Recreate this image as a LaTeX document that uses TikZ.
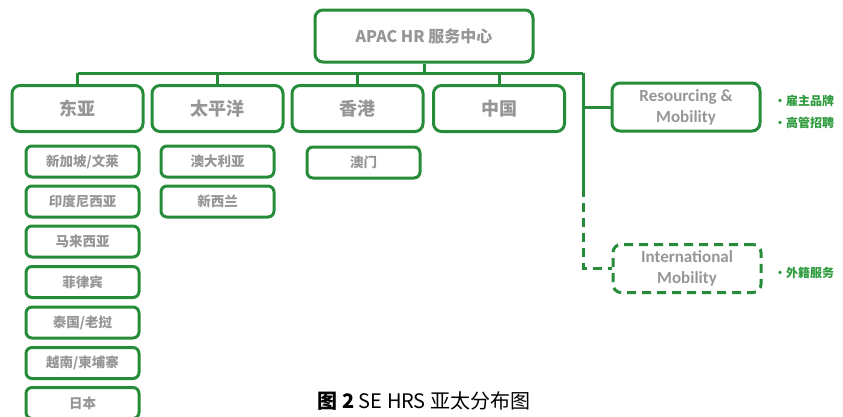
\documentclass[tikz,border=0pt]{standalone}
\usepackage{fontspec}
\setmainfont{Noto Sans CJK SC}
\newfontfamily\latinf{Carlito}
\newfontfamily\cjkf{Noto Sans CJK SC}
\definecolor{hrgreen}{RGB}{38,140,58}
\definecolor{bulgreen}{RGB}{46,155,62}
\definecolor{txtgray}{RGB}{150,150,150}
\begin{document}
\begin{tikzpicture}[x=1pt,y=-1pt,
  conn/.style={draw=hrgreen,line width=3pt},
  box/.style={draw=hrgreen,line width=3pt,rounded corners=8pt,fill=white,text=txtgray,align=center,inner sep=0pt},
  topbox/.style={box,minimum width=218pt,minimum height=52pt,font=\cjkf\fontsize{16}{18}\selectfont\bfseries},
  regbox/.style={box,minimum width=131pt,minimum height=46pt,font=\cjkf\fontsize{18}{20}\selectfont\bfseries},
  subbox/.style={box,rounded corners=6pt,minimum width=113pt,minimum height=31pt,font=\cjkf\fontsize{13.5}{15}\selectfont\bfseries},
  funcbox/.style={box,minimum width=148pt,minimum height=48pt,font=\latinf\fontsize{17}{21}\selectfont\bfseries},
  dashbox/.style={funcbox,dash pattern=on 9pt off 6pt},
  bullet/.style={anchor=west,text=bulgreen,font=\cjkf\fontsize{12}{14}\selectfont\bfseries,inner sep=0pt}]
\clip (0,0) rectangle (843,416);
\fill[white] (0,0) rectangle (843,416);
% bus coordinates
\coordinate (busL) at (77.5,73);
\coordinate (busR) at (583,73);
\coordinate (split) at (583,188);
% top
\node[topbox] (top) at (424,36) {APAC HR 服务中心};
% regions
\node[regbox] (ea) at (77.5,108.5) {东亚};
\node[regbox] (pac) at (217.5,108.5) {太平洋};
\node[regbox] (hk) at (357.5,108.5) {香港};
\node[regbox] (cn) at (499,108.5) {中国};
% sub boxes
\node[subbox] (s1) at (82.5,161.5) {新加坡/文莱};
\node[subbox] (s2) at (82.5,201.5) {印度尼西亚};
\node[subbox] (s3) at (82.5,241.5) {马来西亚};
\node[subbox] (s4) at (82.5,282) {菲律宾};
\node[subbox] (s5) at (82.5,322.5) {泰国/老挝};
\node[subbox] (s6) at (82.5,363) {越南/柬埔寨};
\node[subbox] (s7) at (82.5,403) {日本};
\node[subbox] (p1) at (217.5,161.5) {澳大利亚};
\node[subbox] (p2) at (217.5,201.5) {新西兰};
\node[subbox] (m1) at (363.5,162.5) {澳门};
% function boxes
\node[funcbox] (res) at (686,107) {Resourcing \&\\Mobility};
\node[dashbox] (intl) at (687,268.5) {International\\Mobility};
\coordinate (corner) at (583,268.5);
% bullets
\node[bullet] (b1) at (774,101) {・雇主品牌};
\node[bullet] (b2) at (774,123) {・高管招聘};
\node[bullet] (b3) at (774,273) {・外籍服务};
% connectors
\draw[conn] (busL) -- (busR);
\draw[conn] (top.south) -- (top.south |- busL);
\draw[conn] (ea.north) -- (ea.north |- busL);
\draw[conn] (pac.north) -- (pac.north |- busL);
\draw[conn] (hk.north) -- (hk.north |- busL);
\draw[conn] (cn.north) -- (cn.north |- busL);
\draw[conn] (busR) -- (split);
\draw[conn] (busR |- res.west) -- (res.west);
\draw[conn,dash pattern=on 9pt off 6pt] (split) -- (corner) -- (intl.west);
% caption
\node[font=\cjkf\fontsize{20}{22}\selectfont,text=black] (cap) at (424,401) {\textbf{图 2} SE HRS 亚太分布图};
\end{tikzpicture}
\end{document}
